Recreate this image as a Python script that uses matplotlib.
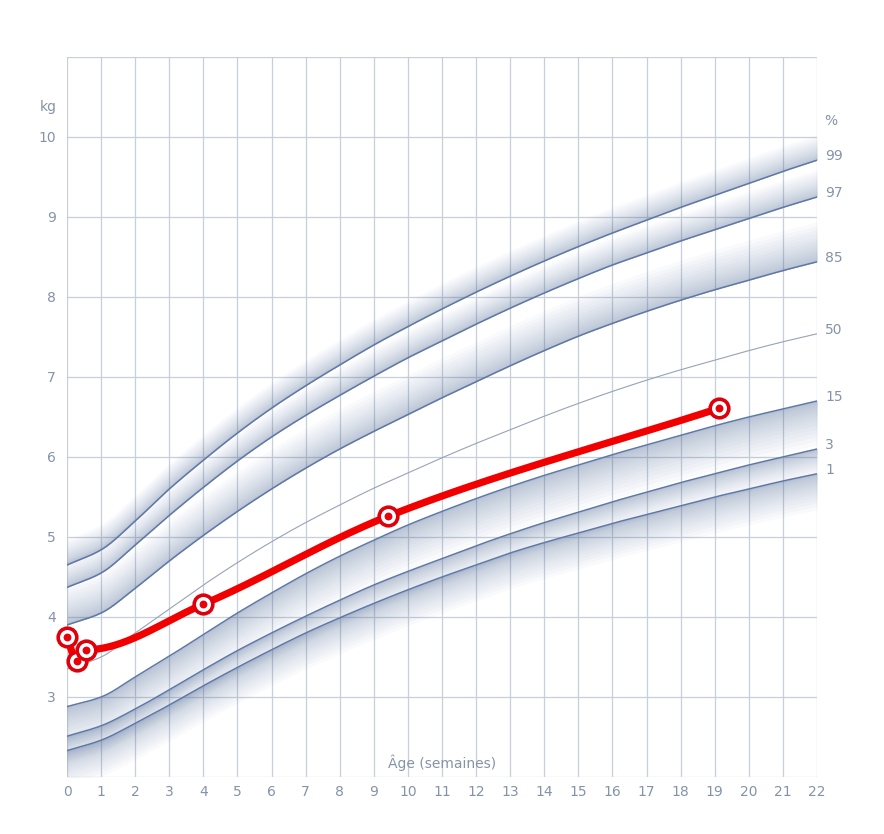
import numpy as np
import matplotlib.pyplot as plt

# percentile curves (kg) by age in weeks
weeks = np.arange(0, 23)
p99 = [4.65, 4.84, 5.20, 5.60, 5.96, 6.30, 6.61, 6.89, 7.15, 7.40, 7.63, 7.85,
       8.06, 8.26, 8.45, 8.63, 8.80, 8.96, 9.12, 9.27, 9.42, 9.57, 9.71]
p97 = [4.37, 4.55, 4.90, 5.27, 5.62, 5.95, 6.25, 6.52, 6.77, 7.01, 7.24, 7.45,
       7.66, 7.86, 8.05, 8.23, 8.40, 8.55, 8.70, 8.84, 8.98, 9.12, 9.25]
p85 = [3.90, 4.05, 4.36, 4.70, 5.02, 5.32, 5.60, 5.86, 6.10, 6.32, 6.53, 6.74,
       6.94, 7.14, 7.33, 7.51, 7.67, 7.82, 7.96, 8.09, 8.21, 8.33, 8.44]
p50 = [3.35, 3.50, 3.80, 4.10, 4.40, 4.68, 4.94, 5.18, 5.40, 5.61, 5.80, 5.99,
       6.17, 6.34, 6.51, 6.67, 6.82, 6.96, 7.09, 7.21, 7.33, 7.44, 7.54]
p15 = [2.88, 3.00, 3.25, 3.51, 3.78, 4.05, 4.30, 4.54, 4.76, 4.96, 5.15, 5.32,
       5.48, 5.63, 5.77, 5.90, 6.03, 6.15, 6.27, 6.39, 6.50, 6.60, 6.70]
p3 = [2.51, 2.64, 2.85, 3.09, 3.34, 3.58, 3.80, 4.01, 4.21, 4.40, 4.57, 4.73,
      4.89, 5.04, 5.18, 5.31, 5.44, 5.56, 5.68, 5.79, 5.90, 6.00, 6.10]
p1 = [2.33, 2.46, 2.67, 2.90, 3.14, 3.37, 3.59, 3.80, 3.99, 4.17, 4.34, 4.50,
      4.65, 4.80, 4.93, 5.05, 5.17, 5.28, 5.39, 5.50, 5.60, 5.70, 5.79]

# measurements of the child
child_weeks = [0.0, 0.29, 0.56, 4.0, 9.42, 19.13]
child_kg = [3.75, 3.45, 3.59, 4.16, 5.26, 6.61]

text_col = '#8593a8'
grid_col = '#c6cfda'
band_col = '#55729f'
line_col = '#5f78a6'


def monotone_curve(x, y, n=40, flat=()):
    # monotone cubic interpolation (Fritsch-Carlson) for smooth drawing
    x = np.asarray(x, float)
    y = np.asarray(y, float)
    h = np.diff(x)
    d = np.diff(y) / h
    m = np.zeros_like(y)
    m[0], m[-1] = d[0], d[-1]
    for i in range(1, len(x) - 1):
        if d[i - 1] * d[i] > 0 and i not in flat:
            w1 = 2 * h[i] + h[i - 1]
            w2 = h[i] + 2 * h[i - 1]
            m[i] = (w1 + w2) / (w1 / d[i - 1] + w2 / d[i])
    xs, ys = [], []
    t = np.linspace(0, 1, n)
    for i in range(len(h)):
        h00 = 2 * t**3 - 3 * t**2 + 1
        h10 = t**3 - 2 * t**2 + t
        h01 = -2 * t**3 + 3 * t**2
        h11 = t**3 - t**2
        xs.append(x[i] + t * h[i])
        ys.append(h00 * y[i] + h10 * h[i] * m[i] + h01 * y[i + 1] + h11 * h[i] * m[i + 1])
    return np.concatenate(xs), np.concatenate(ys)


fig = plt.figure(figsize=(8.84, 8.34), dpi=100)
ax = fig.add_axes([67 / 884, 57 / 834, 750 / 884, 720 / 834])
ax.set_xlim(0, 22)
ax.set_ylim(2, 11)
for s in ax.spines.values():
    s.set_visible(False)

# grid
for w in weeks:
    ax.axvline(w, color=grid_col, lw=0.9, zorder=0)
for k in range(2, 12):
    ax.axhline(k, color=grid_col, lw=0.9, zorder=0)

# shaded percentile lines: (values, label, band width kg, direction)
curves = [(p99, '99', 0.32, 1), (p97, '97', 0.34, 1), (p85, '85', 0.50, 1),
          (p15, '15', 0.55, -1), (p3, '3', 0.32, -1), (p1, '1', 0.45, -1)]
n_layers = 16
for vals, lab, width, sign in curves:
    cx, cy = monotone_curve(weeks, vals)
    for i in range(n_layers):
        off = width * ((i + 1) / n_layers) ** 1.6
        ax.fill_between(cx, cy, cy + sign * off, color=band_col, alpha=0.03,
                        lw=0, zorder=1)
    ax.plot(cx, cy, color=line_col, lw=1.1, zorder=2)
    ax.annotate(lab, (22, vals[-1]), xytext=(6, 3), textcoords='offset points',
                ha='left', va='center', color=text_col, fontsize=10)

cx, cy = monotone_curve(weeks, p50)
ax.plot(cx, cy, color='#97a3b6', lw=0.8, zorder=2)
ax.annotate('50', (22, p50[-1]), xytext=(6, 3), textcoords='offset points',
            ha='left', va='center', color=text_col, fontsize=10)
ax.annotate('%', (22, 10.2), xytext=(5, 0), textcoords='offset points',
            ha='left', va='center', color=text_col, fontsize=10)

# child curve
rx, ry = monotone_curve(child_weeks, child_kg, flat=(2,))
ax.plot(rx, ry, color='#f20000', lw=5.2, solid_capstyle='round', zorder=4)
ax.scatter(child_weeks, child_kg, s=180, facecolor='white', edgecolor='#e0000b',
           linewidth=2.6, zorder=5, clip_on=False)
ax.scatter(child_weeks, child_kg, s=32, color='#e8000b', lw=0, zorder=6,
           clip_on=False)

# ticks
ax.set_xticks(weeks)
ax.set_xticklabels([str(w) for w in weeks])
ax.set_yticks(range(3, 11))
ax.set_yticklabels([str(k) for k in range(3, 11)])
ax.tick_params(length=0, labelsize=10, labelcolor=text_col)
ax.tick_params(axis='x', pad=6)
ax.tick_params(axis='y', pad=8)

fig.text(57 / 884, 1 - 107 / 834, 'kg', ha='right', va='center',
         color=text_col, fontsize=10)
ax.text(11, 2.18, 'Âge (semaines)', ha='center', va='center', color=text_col,
        fontsize=10)

fig.savefig('out.png', dpi=100, facecolor='white')
